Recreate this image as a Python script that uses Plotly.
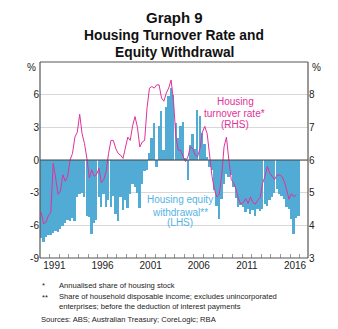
import plotly.graph_objects as go

# ---- Data (quarterly) ----
start_year = 1990
# Housing equity withdrawal, % of household disposable income (LHS), 1990 Q1 - 2016 Q4
equity = [
    -7.2, -7.5, -7.1, -6.9,   # 1990
    -6.9, -6.7, -6.5, -6.6,   # 1991
    -6.3, -6.1, -5.8, -5.5,   # 1992
    -5.6, -5.3, -5.6, -3.4,   # 1993
    -3.1, -3.0, -3.4, -5.1,   # 1994
    -5.2, -6.8, -5.8, -5.5,   # 1995
    -3.4, -4.3, -3.1, -4.3,   # 1996
    -3.7, -4.3, -3.3, -5.0,   # 1997
    -5.6, -3.4, -4.6, -3.7,   # 1998
    -4.4, -3.1, -2.2, -2.5,   # 1999
    -3.0, -4.4, -2.2, -1.0,   # 2000
    -0.9, 0.6, 2.0, 3.4,      # 2001
    -0.6, 3.1, 4.5, 0.9,      # 2002
    4.9, 5.9, 6.6, 6.0,       # 2003
    3.4, 2.0, 3.1, 3.5,       # 2004
    0.1, -1.8, 1.4, 2.4,      # 2005
    1.0, 4.6, 4.0, 2.5,       # 2006
    1.5, 0.3, -0.6, -0.9,     # 2007
    -2.8, -4.2, -5.4, -3.6,   # 2008
    -2.2, -1.3, -1.6, -1.4,   # 2009
    -2.5, -3.5, -4.3, -4.1,   # 2010
    -4.3, -4.8, -4.5, -5.0,   # 2011
    -4.6, -5.1, -4.5, -4.7,   # 2012
    -4.5, -4.0, -4.2, -3.7,   # 2013
    -3.4, -3.0, -2.7, -3.1,   # 2014
    -3.3, -3.6, -4.3, -4.5,   # 2015
    -5.4, -6.8, -5.3, -5.1,   # 2016
]
# Housing turnover rate, annualised share of housing stock (RHS), 1990 Q1 - 2016 Q3
turnover = [
    4.4, 4.05, 4.1, 4.3,      # 1990
    4.4, 5.9, 5.45, 4.95,     # 1991
    5.05, 5.55, 5.35, 5.5,    # 1992
    6.0, 6.2, 6.7, 6.85,      # 1993
    7.4, 6.8, 6.5, 6.05,      # 1994
    5.45, 5.7, 5.5, 5.55,     # 1995
    5.75, 5.3, 5.4, 5.65,     # 1996
    6.2, 6.6, 6.6, 6.35,      # 1997
    6.2, 6.15, 6.05, 6.4,     # 1998
    6.7, 6.6, 7.05, 7.33,     # 1999
    7.0, 6.4, 6.55, 6.6,      # 2000
    7.6, 8.2, 8.25, 8.2,      # 2001
    8.3, 8.3, 7.9, 7.8,       # 2002
    8.05, 8.2, 8.45, 7.8,     # 2003
    6.7, 6.3, 6.3, 6.1,       # 2004
    5.95, 6.1, 6.4, 6.35,     # 2005
    6.15, 6.1, 6.35, 6.85,    # 2006
    7.03, 6.8, 6.1, 5.5,      # 2007
    5.1, 4.87, 4.95, 5.5,     # 2008
    6.4, 6.7, 6.0, 5.4,       # 2009
    5.3, 5.1, 4.8, 4.65,      # 2010
    4.7, 4.82, 4.67, 4.87,    # 2011
    4.7, 4.65, 4.77, 4.85,    # 2012
    5.28, 5.5, 5.8, 5.6,      # 2013
    5.5, 5.4, 5.54, 5.54,     # 2014
    5.5, 5.35, 5.1, 4.8,      # 2015
    4.97, 4.88, 4.92,         # 2016
]
x_tick_labels = ["1991", "1996", "2001", "2006", "2011", "2016"]
left_ticks = [-9, -6, -3, 0, 3, 6]
right_ticks = [3, 4, 5, 6, 7, 8]

q_equity = [start_year + 0.125 + 0.25 * i for i in range(len(equity))]
q_turn = [start_year + 0.125 + 0.25 * i for i in range(len(turnover))]

BLUE = "#52abd5"
BLUE_TXT = "#55b3e3"
MAGENTA = "#e0329a"
FONT = "Liberation Sans, Arial, sans-serif"

W, H = 338, 329
L, R, T, B = 40, 30, 62, 71

def px(x):
    return (x - L) / (W - L - R)

def py(y):
    return (H - B - y) / (H - T - B)

fig = go.Figure()
fig.add_trace(go.Bar(
    x=q_equity, y=equity, width=0.19,
    marker=dict(color=BLUE, line=dict(width=0)),
    yaxis="y", showlegend=False, hoverinfo="skip",
))
fig.add_trace(go.Scatter(
    x=q_turn, y=turnover, mode="lines",
    line=dict(color=MAGENTA, width=1),
    yaxis="y2", showlegend=False, hoverinfo="skip",
))

fig.update_layout(
    width=W, height=H,
    margin=dict(l=L, r=R, t=T, b=B, pad=0),
    paper_bgcolor="white", plot_bgcolor="white",
    font=dict(family=FONT, size=10, color="#222222"),
    bargap=0,
    xaxis=dict(
        range=[1990, 2017.85],
        tickmode="array",
        tickvals=[int(s) + 0.5 for s in x_tick_labels],
        ticktext=x_tick_labels,
        ticks="", showgrid=False, zeroline=False, showline=False,
        tickfont=dict(size=10, color="#222222"),
        minor=dict(tickmode="array", tickvals=list(range(1991, 2018)),
                   ticks="inside", ticklen=4, tickcolor="#9a9a9a", tickwidth=1,
                   showgrid=False),
    ),
    yaxis=dict(
        range=[-9, 9],
        tickmode="array", tickvals=left_ticks,
        ticktext=[str(v) for v in left_ticks],
        ticks="", showgrid=True, gridcolor="#d8d8d8", gridwidth=1,
        zeroline=False, showline=False,
        tickfont=dict(size=10, color="#222222"),
    ),
    yaxis2=dict(
        range=[3, 9], overlaying="y", side="right",
        tickmode="array", tickvals=right_ticks,
        ticktext=[str(v) for v in right_ticks],
        ticks="", showgrid=False, zeroline=False, showline=False,
        tickfont=dict(size=10, color="#222222"),
    ),
)

shapes = [
    # zero line
    dict(type="line", xref="paper", yref="y", x0=0, x1=1, y0=0, y1=0,
         line=dict(color="#444444", width=1), layer="above"),
    # frame
    dict(type="line", xref="paper", yref="paper", x0=0, x1=1, y0=1, y1=1,
         line=dict(color="#aaaaaa", width=2), layer="above"),
    dict(type="line", xref="paper", yref="paper", x0=0, x1=1, y0=0, y1=0,
         line=dict(color="#555555", width=1.2), layer="above"),
    dict(type="line", xref="paper", yref="paper", x0=0, x1=0, y0=0, y1=1,
         line=dict(color="#555555", width=1.2), layer="above"),
    dict(type="line", xref="paper", yref="paper", x0=1, x1=1, y0=0, y1=1,
         line=dict(color="#555555", width=1.2), layer="above"),
]
fig.update_layout(shapes=shapes)

ann = []
def text(x, y, s, size=10, color="#222222", xanchor="center", bold=False):
    if bold:
        s = "<b>" + s + "</b>"
    ann.append(dict(x=px(x), y=py(y), xref="paper", yref="paper", text=s,
                    showarrow=False, xanchor=xanchor, yanchor="middle",
                    font=dict(family=FONT, size=size, color=color)))

# titles
text(174, 17.5, "Graph 9", size=15, color="#111111", bold=True)
text(174, 36, "Housing Turnover Rate and", size=13.8, color="#111111", bold=True)
text(174, 52.5, "Equity Withdrawal", size=13.8, color="#111111", bold=True)

# % unit labels
text(38, 67, "%", xanchor="right")
text(310, 67, "%", xanchor="left")

# series labels
text(235, 101, "Housing", color=MAGENTA)
text(234.5, 113.5, "turnover rate*", color=MAGENTA)
text(235, 124.5, "(RHS)", color=MAGENTA)
text(180, 199.5, "Housing equity", color=BLUE_TXT)
text(180, 212, "withdrawal**", color=BLUE_TXT)
text(180, 222.5, "(LHS)", color=BLUE_TXT)

# footnotes
FS = 7.6
text(40, 285, "*", size=FS, xanchor="left")
text(57, 285, "Annualised share of housing stock", size=FS, xanchor="left")
text(40, 297, "**", size=FS, xanchor="left")
text(57, 296.5, "Share of household disposable income; excludes unincorporated", size=FS, xanchor="left")
text(57, 306.5, "enterprises; before the deduction of interest payments", size=FS, xanchor="left")
text(39, 319, "Sources: ABS; Australian Treasury; CoreLogic; RBA", size=FS, xanchor="left")

fig.update_layout(annotations=ann)

fig.write_html("out.html")
